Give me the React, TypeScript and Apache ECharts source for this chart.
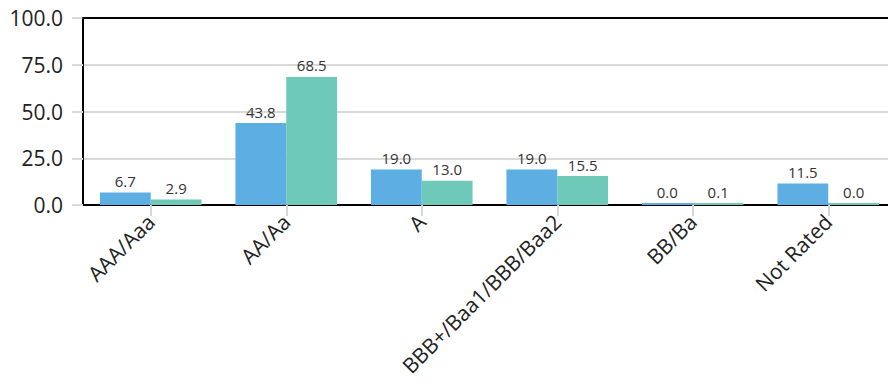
import React, { useEffect, useRef } from "react";
import * as echarts from "echarts";

const categories = ["AAA/Aaa", "AA/Aa", "A", "BBB+/Baa1/BBB/Baa2", "BB/Ba", "Not Rated"];
const seriesA = [6.7, 43.8, 19.0, 19.0, 0.0, 11.5];
const seriesB = [2.9, 68.5, 13.0, 15.5, 0.1, 0.0];
const yTicks = { min: 0, max: 100, interval: 25 };

export default function App() {
  const ref = useRef<HTMLDivElement>(null);
  useEffect(() => {
    if (!ref.current) return;
    const chart = echarts.init(ref.current, null, { renderer: "svg" });
    const font = "Open Sans";
    const label = {
      show: true,
      position: "top",
      distance: 4,
      fontSize: 15,
      color: "#333",
      fontFamily: font,
      formatter: (p: any) => Number(p.value).toFixed(1),
    };
    chart.setOption({
      animation: false,
      grid: {
        left: 83,
        top: 18,
        width: 813,
        bottom: 178,
        show: false,
        outerBoundsMode: "none",
        containLabel: false,
      },
      xAxis: [
        {
          type: "category",
          data: categories,
          boundaryGap: true,
          axisLine: { show: true, lineStyle: { color: "#000", width: 2 } },
          axisTick: { show: true, alignWithLabel: true, length: 11, lineStyle: { color: "#d6d6d6", width: 2 } },
          axisLabel: {
            rotate: 45,
            interval: 0,
            margin: 13,
            fontSize: 21,
            color: "#222",
            fontFamily: font,
          },
        },
        {
          type: "category",
          data: categories,
          position: "top",
          axisLine: { show: true, lineStyle: { color: "#000", width: 2 } },
          axisTick: { show: false },
          axisLabel: { show: false },
          splitLine: { show: false },
          z: 5,
        },
      ],
      yAxis: {
        type: "value",
        min: yTicks.min,
        max: yTicks.max,
        interval: yTicks.interval,
        axisLine: { show: true, lineStyle: { color: "#000", width: 2 } },
        axisTick: { show: true, length: 11, lineStyle: { color: "#d9d9d9", width: 2 } },
        splitLine: { show: true, lineStyle: { color: "#d9d9d9", width: 2 } },
        axisLabel: {
          margin: 20,
          fontSize: 21,
          color: "#222",
          fontFamily: font,
          formatter: (v: number) => v.toFixed(1),
        },
      },
      series: [
        {
          name: "Series A",
          type: "bar",
          data: seriesA,
          barGap: "0%",
          barCategoryGap: "25%",
          barMinHeight: 2,
          itemStyle: { color: "#5dafe3" },
          label,
        },
        {
          name: "Series B",
          type: "bar",
          data: seriesB,
          barGap: "0%",
          barCategoryGap: "25%",
          barMinHeight: 2,
          itemStyle: { color: "#6fc9b9" },
          label,
        },
      ],
    });
    return () => chart.dispose();
  }, []);
  return (
    <div
      ref={ref}
      style={{ position: "absolute", left: 0, top: 0, width: 888, height: 383 }}
    />
  );
}
